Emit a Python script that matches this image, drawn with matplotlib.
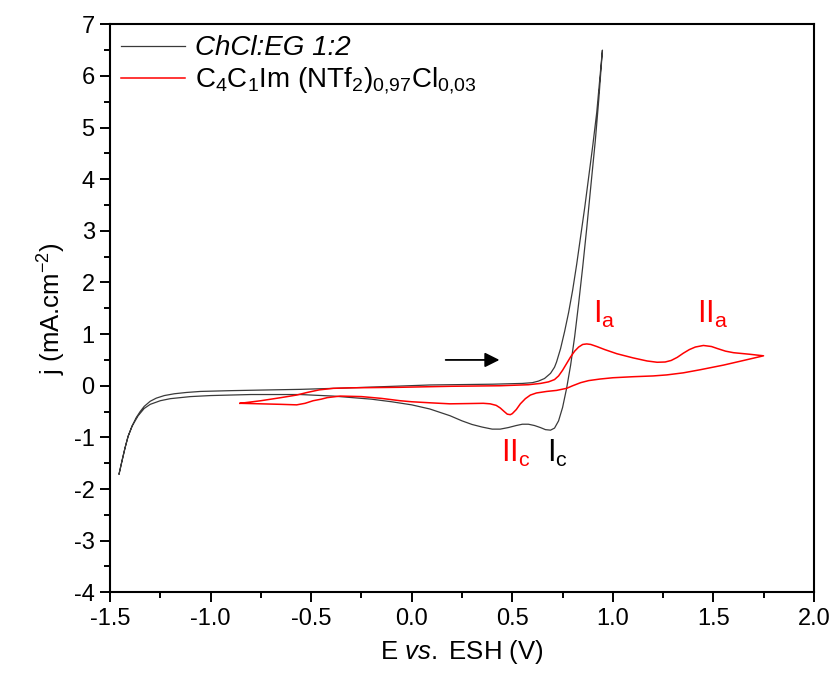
import numpy as np
import matplotlib
matplotlib.use('Agg')
import matplotlib.pyplot as plt
from matplotlib.ticker import MultipleLocator, FormatStrFormatter

plt.rcParams['font.family'] = ['Liberation Sans', 'DejaVu Sans']
plt.rcParams['mathtext.fontset'] = 'custom'
plt.rcParams['mathtext.rm'] = 'Liberation Sans'
plt.rcParams['mathtext.it'] = 'Liberation Sans:italic'
plt.rcParams['axes.unicode_minus'] = False

# ChCl:EG 1:2 -- forward scan then return scan
e_des_fwd = [-1.455, -1.44, -1.425, -1.41, -1.39, -1.37, -1.35, -1.33, -1.30, -1.27, -1.23,
             -1.18, -1.12, -1.05, -0.90, -0.70, -0.555, -0.30, 0.09, 0.40, 0.55, 0.60, 0.63,
             0.66, 0.69, 0.71, 0.72, 0.74, 0.76, 0.78, 0.80, 0.82, 0.84, 0.86, 0.88, 0.90, 0.92, 0.948]
j_des_fwd = [-1.71, -1.45, -1.20, -0.98, -0.78, -0.62, -0.50, -0.40, -0.30, -0.24, -0.19,
             -0.155, -0.13, -0.11, -0.095, -0.08, -0.07, -0.04, 0.015, 0.03, 0.045, 0.06, 0.09,
             0.14, 0.24, 0.36, 0.46, 0.72, 1.05, 1.42, 1.85, 2.35, 2.90, 3.45, 4.05, 4.65, 5.30, 6.50]
e_des_rev = [0.948, 0.93, 0.913, 0.89, 0.87, 0.85, 0.83, 0.81, 0.79, 0.77, 0.75, 0.73, 0.71,
             0.69, 0.665, 0.64, 0.61, 0.58, 0.55, 0.52, 0.48, 0.44, 0.40, 0.35, 0.30, 0.25, 0.19,
             0.09, 0.0, -0.10, -0.20, -0.39, -0.555, -0.80, -1.0, -1.10, -1.20, -1.25, -1.30,
             -1.33, -1.36, -1.39, -1.41, -1.425, -1.44, -1.455]
j_des_rev = [6.50, 5.55, 4.76, 3.85, 3.05, 2.30, 1.60, 0.95, 0.40, -0.05, -0.42, -0.68, -0.82,
             -0.86, -0.85, -0.81, -0.77, -0.745, -0.745, -0.77, -0.81, -0.84, -0.84, -0.80, -0.75, -0.68, -0.58,
             -0.45, -0.37, -0.31, -0.26, -0.20, -0.17, -0.17, -0.19, -0.21, -0.25, -0.29, -0.36,
             -0.44, -0.58, -0.78, -0.98, -1.20, -1.45, -1.71]

# C4C1Im (NTf2)0,97Cl0,03 -- forward scan then return scan
e_il_fwd = [-0.853, -0.75, -0.65, -0.572, -0.52, -0.46, -0.39, -0.30, -0.06, 0.20, 0.44, 0.58,
            0.64, 0.68, 0.71, 0.73, 0.75, 0.77, 0.79, 0.81, 0.83, 0.85, 0.87, 0.89, 0.92, 0.96,
            1.02, 1.10, 1.17, 1.22, 1.26, 1.29, 1.32, 1.35, 1.38, 1.41, 1.45, 1.49, 1.52, 1.56,
            1.60, 1.68, 1.749]
j_il_fwd = [-0.34, -0.29, -0.23, -0.18, -0.13, -0.08, -0.05, -0.04, -0.03, -0.01, 0.00, 0.02,
            0.045, 0.075, 0.12, 0.19, 0.30, 0.43, 0.56, 0.67, 0.75, 0.80, 0.81, 0.80, 0.76, 0.70,
            0.62, 0.54, 0.48, 0.455, 0.46, 0.49, 0.55, 0.63, 0.70, 0.75, 0.78, 0.76, 0.72, 0.67,
            0.64, 0.61, 0.58]
e_il_rev = [1.749, 1.65, 1.55, 1.434, 1.35, 1.268, 1.20, 1.10, 1.00, 0.936, 0.88, 0.84, 0.80,
            0.77, 0.72, 0.671, 0.62, 0.59, 0.565, 0.54, 0.52, 0.50, 0.49, 0.475, 0.46, 0.44, 0.42,
            0.39, 0.356, 0.28, 0.19, 0.09, 0.0, -0.058, -0.15, -0.25, -0.356, -0.42, -0.45, -0.49,
            -0.53, -0.572, -0.65, -0.75, -0.853]
j_il_rev = [0.58, 0.49, 0.40, 0.31, 0.25, 0.21, 0.19, 0.175, 0.155, 0.13, 0.10, 0.06, 0.00,
            -0.05, -0.09, -0.11, -0.14, -0.18, -0.25, -0.35, -0.46, -0.54, -0.56, -0.55, -0.50, -0.43, -0.38,
            -0.35, -0.34, -0.345, -0.35, -0.33, -0.31, -0.29, -0.245, -0.21, -0.20, -0.23, -0.26, -0.29,
            -0.34, -0.37, -0.36, -0.35, -0.34]

labels = ['ChCl:EG 1:2',
          r'C$\mathregular{_4}$C$\mathregular{_1}$Im (NTf$\mathregular{_2}$)$\mathregular{_{0{,}97}}$Cl$\mathregular{_{0{,}03}}$']

fig = plt.figure(figsize=(8.32, 6.79), dpi=100)
ax = fig.add_axes([0.1322, 0.1277, 0.8462, 0.8365])

ax.plot(e_des_fwd + e_des_rev[1:], j_des_fwd + j_des_rev[1:], c='#3a3a3a', lw=0.9, label=labels[0])
ax.plot(e_il_fwd + e_il_rev[1:], j_il_fwd + j_il_rev[1:], c='red', lw=1.1, label=labels[1])

# scan direction arrow
ax.annotate('', xy=(0.45, 0.5), xytext=(0.155, 0.5),
            arrowprops=dict(arrowstyle='-|>', color='k', lw=1.3, mutation_scale=22))

# peak labels
ax.text(0.902, 1.21, r'$\mathregular{I_a}$', color='red', fontsize=22, va='baseline')
ax.text(1.419, 1.21, r'$\mathregular{II_a}$', color='red', fontsize=22, va='baseline')
ax.text(0.444, -1.47, r'$\mathregular{II_c}$', color='red', fontsize=22, va='baseline')
ax.text(0.673, -1.47, r'$\mathregular{I_c}$', color='k', fontsize=22, va='baseline')

ax.set_xlim(-1.5, 2.0)
ax.set_ylim(-4, 7)
ax.xaxis.set_major_locator(MultipleLocator(0.5))
ax.xaxis.set_minor_locator(MultipleLocator(0.25))
ax.xaxis.set_major_formatter(FormatStrFormatter('%.1f'))
ax.yaxis.set_major_locator(MultipleLocator(1))
ax.yaxis.set_minor_locator(MultipleLocator(0.5))
ax.tick_params(which='major', direction='out', length=7, width=1.4, labelsize=17, pad=4)
ax.tick_params(which='minor', direction='out', length=4, width=1.4)
for s in ax.spines.values():
    s.set_linewidth(1.5)

ax.set_xlabel(r'E $\mathit{vs.}$ ESH (V)', fontsize=18.5, labelpad=6)
ax.set_ylabel(r'j (mA.cm$\mathregular{^{-2}}$)', fontsize=18.5, labelpad=4)

leg = ax.legend(loc='upper left', frameon=False, fontsize=20, handlelength=2.3,
                handletextpad=0.35, labelspacing=0.15, borderaxespad=0.2, borderpad=0.2)
leg.get_texts()[0].set_style('italic')

fig.savefig('out.png', dpi=100)
